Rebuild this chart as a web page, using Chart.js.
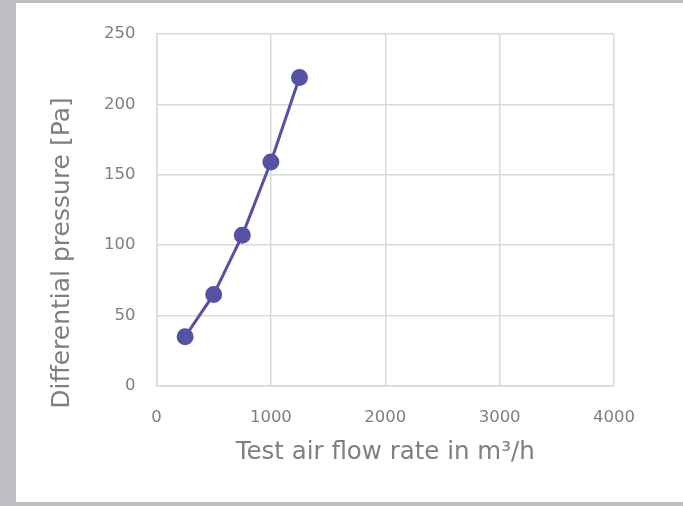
<!DOCTYPE html>
<html>
<head>
<meta charset="utf-8">
<script src="https://cdn.jsdelivr.net/npm/chart.js@4"></script>
<style>
  body { margin: 0; background: #bebec3; }
  #caja { position: absolute; left: 16px; top: 3px; width: 667px; height: 499px; background: #fff; }
</style>
</head>
<body>
<div id="caja"><canvas id="graficoPresion"></canvas></div>
<script>
const caudales = [250, 500, 750, 1000, 1250];
const presiones = [35, 65, 107, 159, 219];
const tituloX = 'Test air flow rate in m³/h';
const tituloY = 'Differential pressure [Pa]';

const fuente = "'DejaVu Sans', sans-serif";
const gris = '#7f7f7f';
const rejilla = '#d9d9d9';

// titulo del eje Y, dibujado a mano porque no va centrado en el area
const tituloEjeY = {
    id: 'tituloEjeY',
    afterDraw(chart) {
        const ctx = chart.ctx;
        ctx.save();
        ctx.translate(46, 250);
        ctx.rotate(-Math.PI / 2);
        ctx.font = "25px " + fuente;
        ctx.fillStyle = gris;
        ctx.textAlign = 'center';
        ctx.textBaseline = 'middle';
        ctx.fillText(tituloY, 0, 0);
        ctx.restore();
    }
};

const ctx = document.getElementById('graficoPresion').getContext('2d');
window.miGrafico = new Chart(ctx, {
    type: 'scatter',
    data: {
        datasets: [{
            data: caudales.map((c, i) => ({ x: c, y: presiones[i] })),
            showLine: true,
            borderColor: '#5652a3',
            backgroundColor: '#5652a3',
            borderWidth: 3,
            pointRadius: 7,
            pointHoverRadius: 7
        }]
    },
    options: {
        responsive: true,
        maintainAspectRatio: false,
        animation: false,
        layout: {
            padding: { top: 29.5, right: 69, bottom: 0, left: 0 }
        },
        plugins: {
            legend: { display: false },
            tooltip: { enabled: false }
        },
        scales: {
            x: {
                min: 0,
                max: 4000,
                afterFit: (s) => { s.height = 116; },
                grid: { color: rejilla, lineWidth: 1.5, drawTicks: false },
                border: { color: rejilla, width: 1.5 },
                ticks: {
                    stepSize: 1000,
                    padding: 22,
                    color: gris,
                    font: { family: fuente, size: 16.5 },
                    callback: (v) => String(v)
                },
                title: {
                    display: true,
                    text: tituloX,
                    color: gris,
                    font: { family: fuente, size: 24.5 },
                    padding: { top: 0, bottom: 35 }
                }
            },
            y: {
                min: 0,
                max: 250,
                afterFit: (s) => { s.width = 140.5; },
                grid: { color: rejilla, lineWidth: 1.5, drawTicks: false },
                border: { color: rejilla, width: 1.5 },
                ticks: {
                    stepSize: 50,
                    padding: 21,
                    color: gris,
                    font: { family: fuente, size: 16.5 },
                    callback: (v) => String(v)
                }
            }
        }
    },
    plugins: [tituloEjeY]
});
</script>
</body>
</html>
